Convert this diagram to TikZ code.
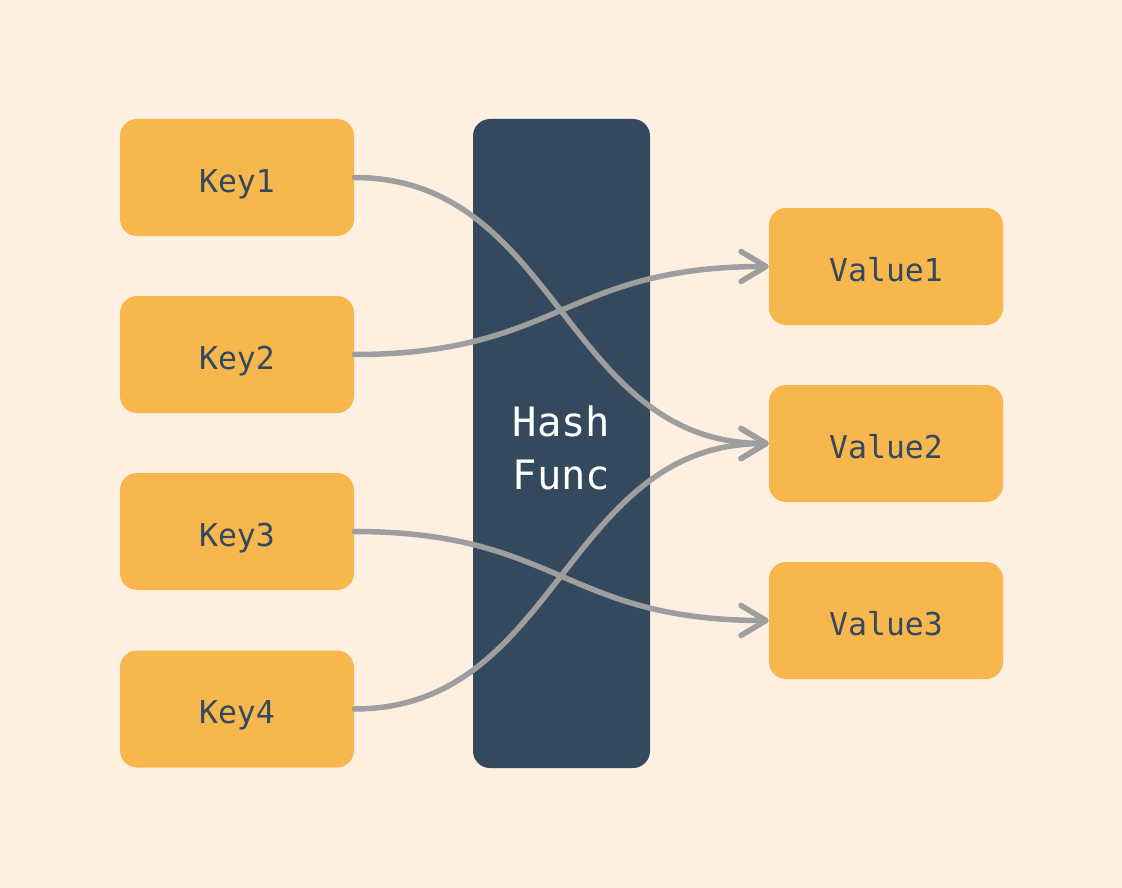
\documentclass[tikz,border=0pt]{standalone}
\usepackage{fontspec}
\setmonofont{DejaVu Sans Mono}
\usetikzlibrary{arrows.meta}
\definecolor{bgc}{HTML}{FEF0E1}
\definecolor{boxor}{HTML}{F8B74D}
\definecolor{darkc}{HTML}{34495E}
\definecolor{linkgray}{HTML}{9E9E9E}
\begin{document}
\begin{tikzpicture}[x=1pt,y=-1pt,
  box/.style={fill=boxor, rounded corners=17pt, minimum width=234pt, minimum height=117pt, inner sep=0pt, text=darkc, text height=29pt, text depth=0pt, font=\fontsize{31.5}{36}\selectfont\ttfamily},
  link/.style={draw=linkgray, line width=5.5pt, line cap=round, -{Straight Barb[length=25pt,width=30pt,round]}}]
\fill[bgc] (0,0) rectangle (1122,888);
\node[box] (k1) at (237,177.5) {Key1};
\node[box] (k2) at (237,354.5) {Key2};
\node[box] (k3) at (237,531.5) {Key3};
\node[box] (k4) at (237,709) {Key4};
\node[box] (v1) at (886,266.5) {Value1};
\node[box] (v2) at (886,443.5) {Value2};
\node[box] (v3) at (886,620.5) {Value3};
\node[fill=darkc, rounded corners=17pt, minimum width=177pt, minimum height=649pt, inner sep=0pt, text=white, align=center, text height=91pt, text depth=0pt, font=\fontsize{40.5}{53}\selectfont\ttfamily] (h) at (561.5,443.5) {Hash\\Func};
\draw[link] (k1.east) .. controls +(205,0) and +(-205,0) .. (v2.west);
\draw[link] (k2.east) .. controls +(205,0) and +(-205,0) .. (v1.west);
\draw[link] (k3.east) .. controls +(205,0) and +(-205,0) .. (v3.west);
\draw[link] (k4.east) .. controls +(205,0) and +(-205,0) .. (v2.west);
\end{tikzpicture}
\end{document}
